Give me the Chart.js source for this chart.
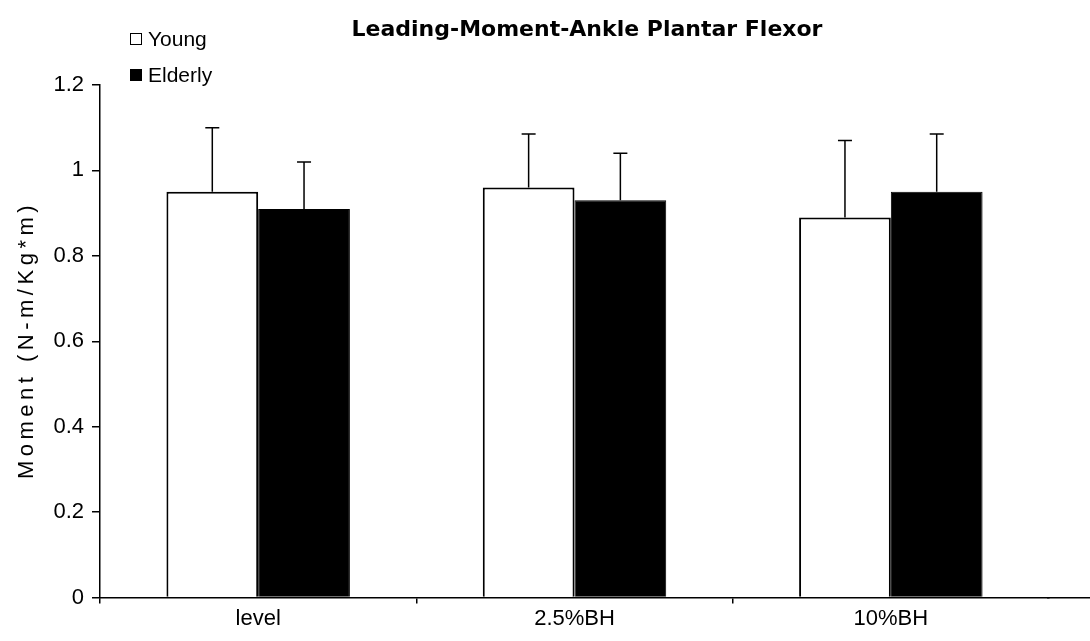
<!DOCTYPE html>
<html lang="en">
<head>
  <meta charset="UTF-8">
  <title>Leading-Moment-Ankle Plantar Flexor</title>
  <script src="https://cdn.jsdelivr.net/npm/chart.js"></script>
  <style>
    html, body { margin: 0; padding: 0; background: #fff; }
    #wrap { position: relative; width: 1090px; height: 641px; }
    #title { position: absolute; left: 287px; width: 600px; top: 16px; text-align: center;
             font: bold 22px "DejaVu Sans", sans-serif; color: #000; white-space: nowrap; }
    #ytitle { position: absolute; left: -174px; width: 400px; top: 327px; text-align: center;
              transform: rotate(-90deg); font: 22px "Liberation Sans", Arial, sans-serif;
              letter-spacing: 4.5px; color: #000; white-space: nowrap; line-height: 26px; }
    #legend { position: absolute; left: 130px; top: 26px; font: 21px "Liberation Sans", Arial, sans-serif; color: #000; }
    #legend div { height: 36px; line-height: 26px; display: flex; align-items: flex-start; }
    #legend span.box { display: inline-block; width: 10px; height: 10px; border: 1.5px solid #000; margin: 7px 6px 0 0; }
  </style>
</head>
<body>
  <div id="wrap">
    <canvas id="myChart" width="1090" height="641"></canvas>
    <div id="title">Leading-Moment-Ankle Plantar Flexor</div>
    <div id="ytitle">Moment (N-m/Kg*m)</div>
    <div id="legend"></div>
  </div>

  <script>
    const categories = ['level', '2.5%BH', '10%BH'];
    const youngValues = [0.95, 0.96, 0.89];
    const youngErrors = [0.15, 0.125, 0.18];
    const elderlyValues = [0.91, 0.93, 0.95];
    const elderlyErrors = [0.11, 0.11, 0.135];
    const yTicks = [0, 0.2, 0.4, 0.6, 0.8, 1, 1.2];

    const font = '"Liberation Sans", Arial, sans-serif';

    // upward-only error bars, drawn through the y scale
    const errorBars = {
      id: 'errorBars',
      afterDatasetsDraw(chart) {
        const ctx = chart.ctx;
        const yScale = chart.scales.y;
        chart.data.datasets.forEach((ds, di) => {
          const meta = chart.getDatasetMeta(di);
          meta.data.forEach((bar, i) => {
            const top = yScale.getPixelForValue(ds.data[i] + ds.errors[i]);
            ctx.save();
            ctx.strokeStyle = '#000';
            ctx.lineWidth = 1.5;
            ctx.beginPath();
            ctx.moveTo(bar.x, bar.y);
            ctx.lineTo(bar.x, top);
            ctx.moveTo(bar.x - 7, top);
            ctx.lineTo(bar.x + 7, top);
            ctx.stroke();
            ctx.restore();
          });
        });
      }
    };

    // the x axis line runs on to the right edge
    const axisExtend = {
      id: 'axisExtend',
      afterDraw(chart) {
        const ctx = chart.ctx;
        const xs = chart.scales.x;
        const y = Math.round(xs.top - 0.75) + 0.75;
        ctx.save();
        ctx.strokeStyle = '#000';
        ctx.lineWidth = 1.5;
        ctx.beginPath();
        ctx.moveTo(xs.right - 2, y);
        ctx.lineTo(chart.width, y);
        ctx.stroke();
        ctx.restore();
      }
    };

    const ctx = document.getElementById('myChart').getContext('2d');
    const chart = new Chart(ctx, {
      type: 'bar',
      data: {
        labels: categories,
        datasets: [{
          label: 'Young',
          data: youngValues,
          errors: youngErrors,
          backgroundColor: '#fff',
          borderColor: '#000',
          borderWidth: 2,
          borderSkipped: 'bottom'
        }, {
          label: 'Elderly',
          data: elderlyValues,
          errors: elderlyErrors,
          backgroundColor: '#000',
          borderColor: '#000',
          borderWidth: 1,
          borderSkipped: 'bottom'
        }]
      },
      options: {
        responsive: false,
        animation: false,
        layout: { padding: { top: 85, right: 41, bottom: 7, left: 0 } },
        categoryPercentage: 0.58,
        barPercentage: 1.0,
        plugins: {
          legend: { display: false },
          tooltip: { enabled: false }
        },
        scales: {
          x: {
            grid: {
              display: true, drawOnChartArea: false, drawTicks: true, tickLength: 6, lineWidth: 1.5,
              color: c => (c.index === undefined ? 'rgba(0,0,0,0)' : '#000')
            },
            border: { display: true, color: '#000', width: 1.5 },
            ticks: { color: '#000', font: { family: font, size: 22 }, padding: 2 }
          },
          y: {
            min: 0,
            max: 1.2,
            afterBuildTicks(scale) {
              scale.ticks = yTicks.map(v => ({ value: v }));
            },
            afterFit(scale) { scale.width = 100; },
            grid: { display: true, drawOnChartArea: false, drawTicks: true, tickLength: 8, color: '#000', lineWidth: 1.5 },
            border: { display: true, color: '#000', width: 1.5 },
            ticks: { color: '#000', font: { family: font, size: 22 }, padding: 8, callback: v => String(v) }
          }
        }
      },
      plugins: [errorBars, axisExtend]
    });

    // legend stacked top-left, built from the dataset labels
    const legend = document.getElementById('legend');
    chart.data.datasets.forEach(ds => {
      const row = document.createElement('div');
      const box = document.createElement('span');
      box.className = 'box';
      box.style.background = ds.backgroundColor;
      row.appendChild(box);
      row.appendChild(document.createTextNode(ds.label));
      legend.appendChild(row);
    });
  </script>
</body>
</html>
